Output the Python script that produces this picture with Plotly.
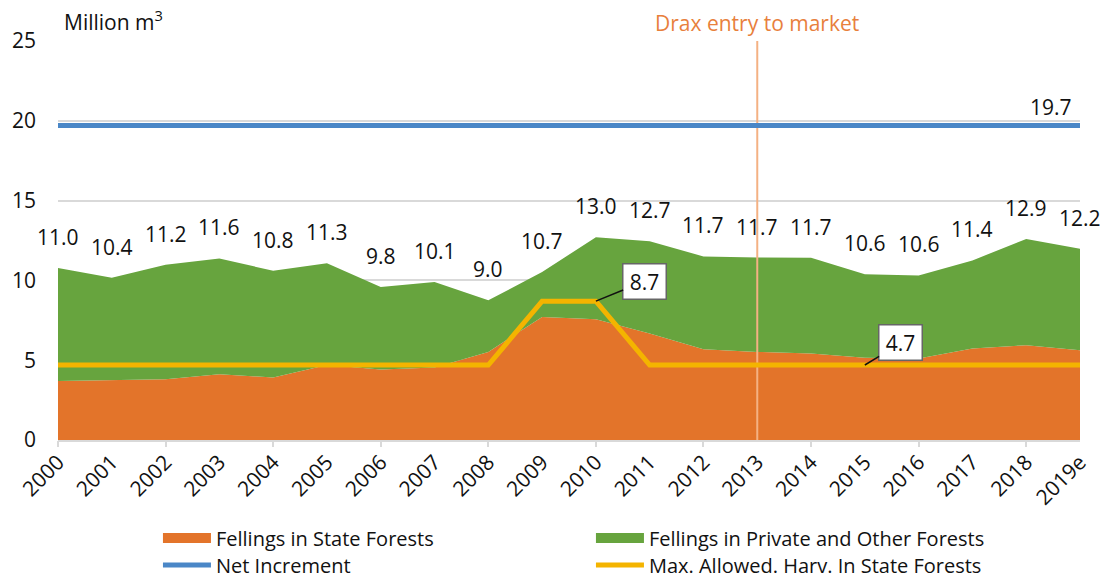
import plotly.graph_objects as go

years = ["2000", "2001", "2002", "2003", "2004", "2005", "2006", "2007", "2008", "2009",
         "2010", "2011", "2012", "2013", "2014", "2015", "2016", "2017", "2018", "2019e"]
state_fellings = [3.69, 3.75, 3.81, 4.12, 3.92, 4.70, 4.42, 4.55, 5.52, 7.71,
                  7.56, 6.67, 5.69, 5.52, 5.42, 5.15, 5.10, 5.73, 5.94, 5.63]
private_fellings = [7.08, 6.42, 7.17, 7.26, 6.68, 6.37, 5.16, 5.35, 3.23, 2.81,
                    5.15, 5.79, 5.81, 5.91, 6.00, 5.23, 5.21, 5.52, 6.66, 6.35]
total_labels = ["11.0", "10.4", "11.2", "11.6", "10.8", "11.3", "9.8", "10.1", "9.0", "10.7",
                "13.0", "12.7", "11.7", "11.7", "11.7", "10.6", "10.6", "11.4", "12.9", "12.2"]
net_increment = [19.7] * 20
max_allowed = [4.7, 4.7, 4.7, 4.7, 4.7, 4.7, 4.7, 4.7, 4.7, 8.7,
               8.7, 4.7, 4.7, 4.7, 4.7, 4.7, 4.7, 4.7, 4.7, 4.7]
drax_year = "2013"
y_range = [0, 25]

FONT = "Open Sans"
FS = 21
LFS = 20
ORANGE = "#E3742A"
GREEN = "#67A43E"
BLUE = "#4A87C7"
YELLOW = "#F4B400"
GRID = "#D9D9D9"
TXT = "#111111"

idx = list(range(len(years)))
drax_idx = years.index(drax_year)

fig = go.Figure()
fig.add_trace(go.Scatter(x=years, y=state_fellings, name="Fellings in State Forests",
                         stackgroup="one", mode="lines", line=dict(width=0, color=ORANGE),
                         fillcolor=ORANGE, showlegend=False, hoverinfo="skip"))
fig.add_trace(go.Scatter(x=years, y=private_fellings, name="Fellings in Private and Other Forests",
                         stackgroup="one", mode="lines", line=dict(width=0, color=GREEN),
                         fillcolor=GREEN, showlegend=False, hoverinfo="skip"))
# Drax vertical marker (drawn between areas and lines)
fig.add_trace(go.Scatter(x=[drax_year, drax_year], y=y_range, mode="lines",
                         line=dict(color="#F4B183", width=2), showlegend=False, hoverinfo="skip"))
fig.add_trace(go.Scatter(x=years, y=net_increment, name="Net Increment", mode="lines",
                         line=dict(color=BLUE, width=5), showlegend=False, hoverinfo="skip"))
fig.add_trace(go.Scatter(x=years, y=max_allowed, name="Max. Allowed. Harv. In State Forests",
                         mode="lines", line=dict(color=YELLOW, width=5), showlegend=False,
                         hoverinfo="skip"))
# legend proxies
fig.add_trace(go.Scatter(x=[None], y=[None], name="Fellings in State Forests", mode="lines",
                         line=dict(color=ORANGE, width=14), legend="legend"))
fig.add_trace(go.Scatter(x=[None], y=[None], name="Fellings in Private and Other Forests",
                         mode="lines", line=dict(color=GREEN, width=14), legend="legend"))
fig.add_trace(go.Scatter(x=[None], y=[None], name="Net Increment", mode="lines",
                         line=dict(color=BLUE, width=5), legend="legend2"))
fig.add_trace(go.Scatter(x=[None], y=[None], name="Max. Allowed. Harv. In State Forests",
                         mode="lines", line=dict(color=YELLOW, width=5), legend="legend2"))
# helper trace for even-year tick marks
fig.add_trace(go.Scatter(x=years, y=[None] * len(years), xaxis="x2", showlegend=False,
                         hoverinfo="skip"))

annotations = []
for i, s, p, lab in zip(idx, state_fellings, private_fellings, total_labels):
    annotations.append(dict(x=i, y=s + p, text=lab, showarrow=False, yshift=31,
                            yanchor="middle", font=dict(size=FS, color=TXT)))

annotations.append(dict(x=10, y=max_allowed[10], text="8.7", showarrow=True,
                        arrowhead=0, arrowwidth=1.5, arrowcolor=TXT, ax=49, ay=-20,
                        bgcolor="white", bordercolor="#666", borderwidth=1.5, borderpad=3,
                        width=36, font=dict(size=FS, color=TXT)))
annotations.append(dict(x=15, y=max_allowed[15], text="4.7", showarrow=True,
                        arrowhead=0, arrowwidth=1.5, arrowcolor=TXT, ax=36, ay=-22,
                        bgcolor="white", bordercolor="#666", borderwidth=1.5, borderpad=3,
                        width=36, font=dict(size=FS, color=TXT)))
annotations.append(dict(x=idx[-1], y=net_increment[-1], text="19.7", showarrow=False,
                        xanchor="right", yanchor="bottom", xshift=-6, yshift=3,
                        font=dict(size=FS, color=TXT)))
annotations.append(dict(x=drax_idx, y=1, yref="paper", text="Drax entry to market",
                        showarrow=False, yanchor="bottom", yshift=2,
                        font=dict(size=FS, color="#E8803C")))
annotations.append(dict(x=0, y=1, xref="paper", yref="paper", text="Million m<sup>3</sup>",
                        showarrow=False, xanchor="left", yanchor="bottom", xshift=4, yshift=3,
                        font=dict(size=FS, color=TXT)))

fig.update_layout(
    width=1105, height=580,
    margin=dict(l=58, r=25, t=41, b=140, autoexpand=False),
    paper_bgcolor="white", plot_bgcolor="white",
    font=dict(family=FONT, size=FS, color=TXT),
    xaxis=dict(type="category", categoryorder="array", categoryarray=years,
               range=[0, len(years) - 1], tickangle=-45, showgrid=False,
               showline=True, linecolor=GRID, linewidth=1.5, ticks="",
               tickfont=dict(size=FS), automargin=False),
    xaxis2=dict(type="category", categoryorder="array", categoryarray=years,
                range=[0, len(years) - 1], overlaying="x", anchor="y", side="bottom",
                tickvals=years[::2], showticklabels=False, ticks="outside",
                ticklen=6, tickcolor=GRID, tickwidth=1.5, showgrid=False, automargin=False),
    yaxis=dict(range=y_range, dtick=5, showgrid=True, gridcolor=GRID, gridwidth=1.5,
               zeroline=False, ticks="", ticklabelstandoff=21, tickfont=dict(size=FS),
               automargin=False),
    showlegend=True,
    legend=dict(orientation="h", x=0.0978, y=-0.2456, xanchor="left", yanchor="middle",
                entrywidth=370, itemwidth=48, traceorder="normal",
                font=dict(size=LFS), bgcolor="rgba(0,0,0,0)"),
    legend2=dict(orientation="h", x=0.0978, y=-0.3133, xanchor="left", yanchor="middle",
                 entrywidth=370, itemwidth=48, traceorder="normal",
                 font=dict(size=LFS), bgcolor="rgba(0,0,0,0)"),
    annotations=annotations,
)

fig.write_html("out.html", post_script="document.body.style.margin='0';",
               config={"displayModeBar": False})
